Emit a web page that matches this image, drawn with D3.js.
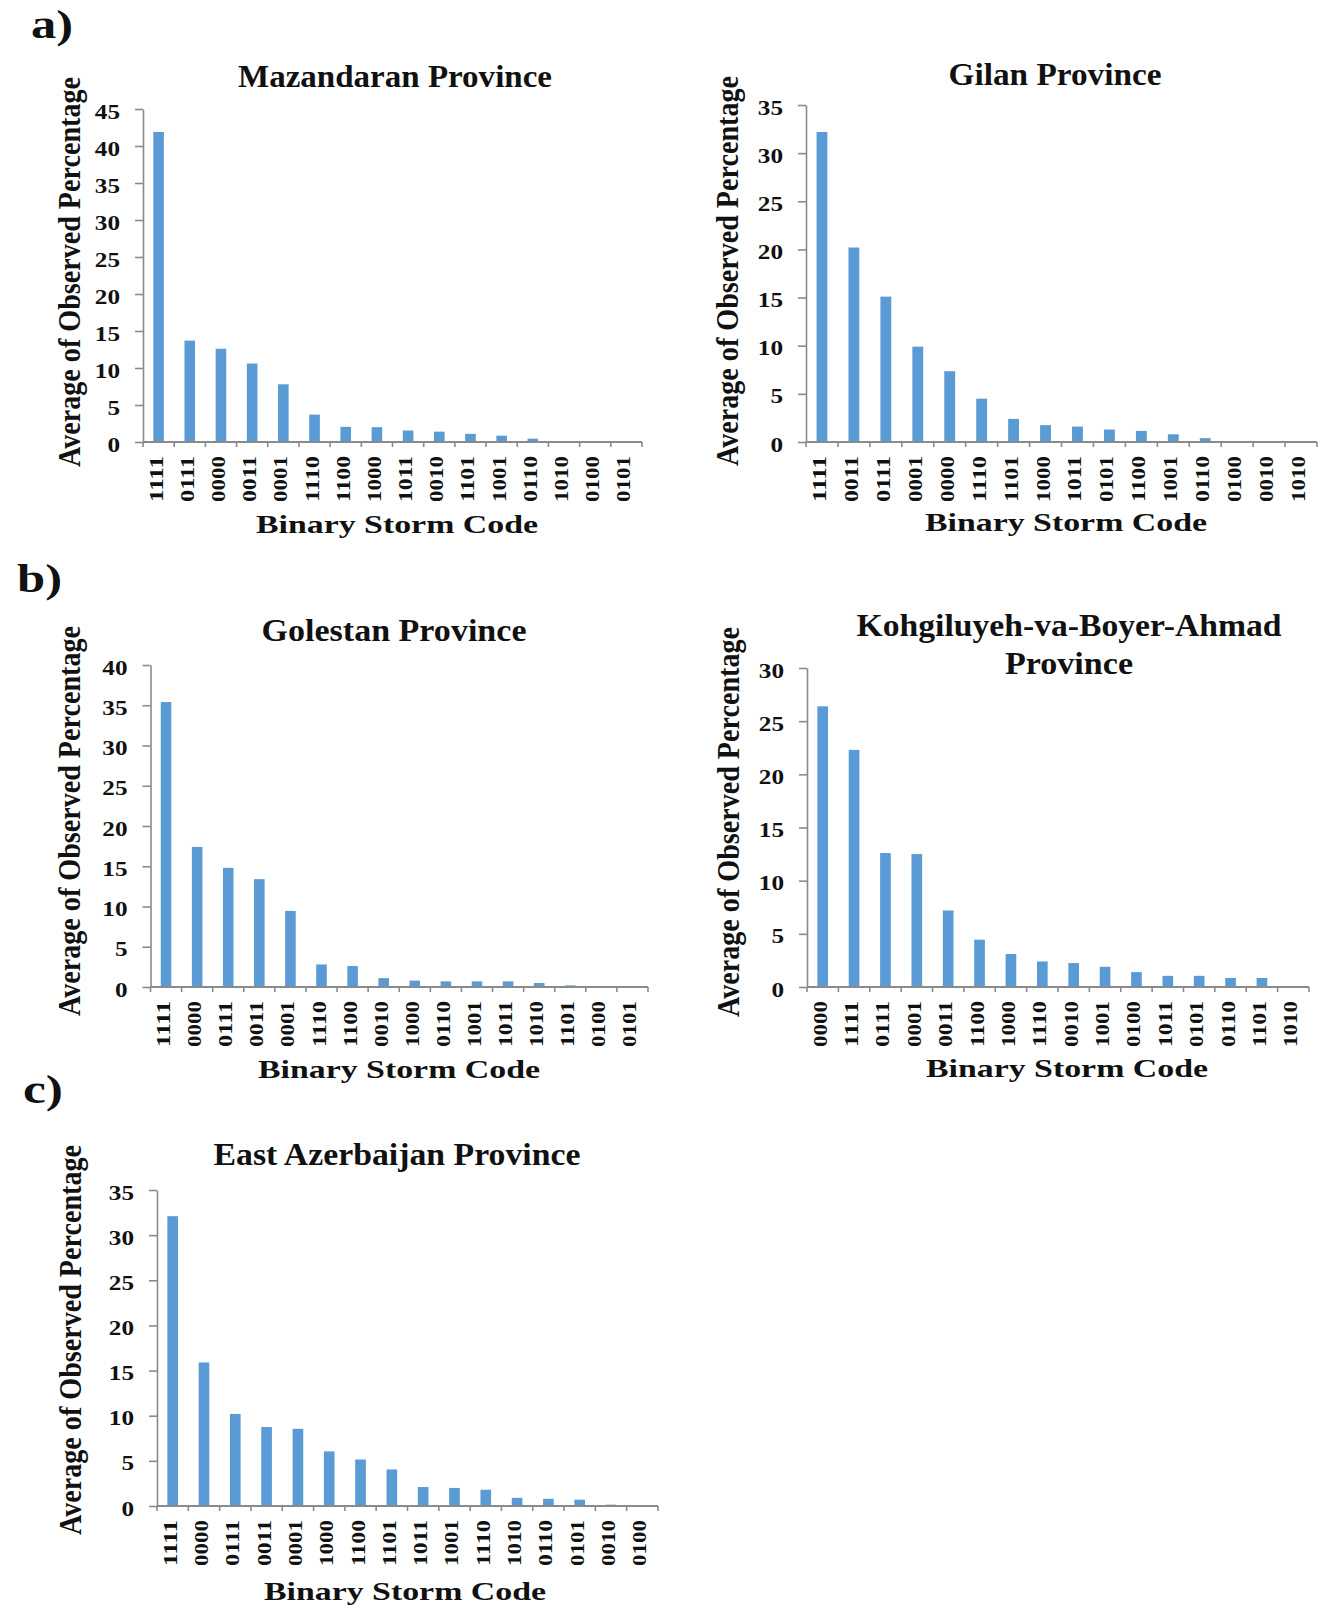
<!DOCTYPE html>
<html>
<head>
<meta charset="utf-8">
<script src="https://cdn.jsdelivr.net/npm/d3@7"></script>
<style>
  html, body { margin: 0; padding: 0; background: #ffffff; }
  svg { display: block; }
</style>
</head>
<body>
<script>
// ---------------- DATA ----------------
const mazCodes  = ["1111","0111","0000","0011","0001","1110","1100","1000","1011","0010","1101","1001","0110","1010","0100","0101"];
const mazValues = [41.9, 13.7, 12.6, 10.6, 7.8, 3.7, 2.05, 2.0, 1.55, 1.4, 1.1, 0.85, 0.45, 0, 0, 0];
const mazTicks  = [0, 5, 10, 15, 20, 25, 30, 35, 40, 45];

const gilCodes  = ["1111","0011","0111","0001","0000","1110","1101","1000","1011","0101","1100","1001","0110","0100","0010","1010"];
const gilValues = [32.2, 20.2, 15.1, 9.9, 7.35, 4.5, 2.4, 1.75, 1.6, 1.3, 1.15, 0.8, 0.4, 0.1, 0, 0];
const gilTicks  = [0, 5, 10, 15, 20, 25, 30, 35];

const golCodes  = ["1111","0000","0111","0011","0001","1110","1100","0010","1000","0110","1001","1011","1010","1101","0100","0101"];
const golValues = [35.4, 17.4, 14.8, 13.4, 9.45, 2.8, 2.6, 1.1, 0.8, 0.7, 0.7, 0.7, 0.5, 0.2, 0, 0];
const golTicks  = [0, 5, 10, 15, 20, 25, 30, 35, 40];

const kohCodes  = ["0000","1111","0111","0001","0011","1100","1000","1110","0010","1001","0100","1011","0101","0110","1101","1010"];
const kohValues = [26.4, 22.3, 12.6, 12.5, 7.2, 4.45, 3.1, 2.4, 2.25, 1.9, 1.4, 1.05, 1.05, 0.85, 0.85, 0];
const kohTicks  = [0, 5, 10, 15, 20, 25, 30];

const eazCodes  = ["1111","0000","0111","0011","0001","1000","1100","1101","1011","1001","1110","1010","0110","0101","0010","0100"];
const eazValues = [32.1, 15.9, 10.2, 8.75, 8.55, 6.05, 5.15, 4.05, 2.1, 2.0, 1.8, 0.9, 0.8, 0.7, 0.15, 0.1];
const eazTicks  = [0, 5, 10, 15, 20, 25, 30, 35];

const yAxisTitle = "Average of Observed Percentage";
const xAxisTitle = "Binary Storm Code";

// ---------------- LAYOUT ----------------
const panels = [
  { title: ["Mazandaran Province"], codes: mazCodes, values: mazValues, ticks: mazTicks,
    x0: 143, x1: 642, y0: 442, yTop: 109,
    titleX: 395, titleY: [87], titleW: [314],
    yLabX: 80, yLabY: 272, xLabX: 397, xLabY: 533 },
  { title: ["Gilan Province"], codes: gilCodes, values: gilValues, ticks: gilTicks,
    x0: 806, x1: 1317, y0: 442, yTop: 105,
    titleX: 1055, titleY: [85], titleW: [213],
    yLabX: 738, yLabY: 271, xLabX: 1066, xLabY: 531 },
  { title: ["Golestan Province"], codes: golCodes, values: golValues, ticks: golTicks,
    x0: 150.5, x1: 648, y0: 987, yTop: 665,
    titleX: 394, titleY: [641], titleW: [265],
    yLabX: 80, yLabY: 821, xLabX: 399, xLabY: 1078 },
  { title: ["Kohgiluyeh-va-Boyer-Ahmad", "Province"], codes: kohCodes, values: kohValues, ticks: kohTicks,
    x0: 807, x1: 1309, y0: 987, yTop: 668,
    titleX: 1069, titleY: [636, 674], titleW: [425, 128],
    yLabX: 739, yLabY: 822, xLabX: 1067, xLabY: 1077 },
  { title: ["East Azerbaijan Province"], codes: eazCodes, values: eazValues, ticks: eazTicks,
    x0: 157, x1: 658, y0: 1506, yTop: 1190,
    titleX: 397, titleY: [1165], titleW: [367],
    yLabX: 81, yLabY: 1340, xLabX: 405, xLabY: 1600 }
];

const letters = [
  { t: "a)", x: 31, y: 38, w: 42 },
  { t: "b)", x: 17, y: 592, w: 45 },
  { t: "c)", x: 23, y: 1103, w: 40 }
];

const FONT = "'Liberation Serif', 'Times New Roman', Times, serif";
const BAR = "#5b9bd5";
const AXIS = "#8a8a8a";
const INK = "#111111";

const svg = d3.select("body").append("svg")
  .attr("width", 1326).attr("height", 1608)
  .attr("font-family", FONT).attr("font-weight", "bold");

svg.append("rect").attr("width", 1326).attr("height", 1608).attr("fill", "#ffffff");

svg.selectAll("text.letter").data(letters).join("text")
  .attr("class", "letter")
  .attr("x", d => d.x).attr("y", d => d.y)
  .attr("font-size", 40).attr("fill", INK)
  .attr("textLength", d => d.w).attr("lengthAdjust", "spacingAndGlyphs")
  .text(d => d.t);

panels.forEach(p => {
  const g = svg.append("g");
  const x = d3.scaleBand().domain(p.codes).range([p.x0, p.x1])
    .paddingInner(0.66).paddingOuter(0.33);
  const y = d3.scaleLinear().domain([0, d3.max(p.ticks)]).range([p.y0, p.yTop]);

  // bars
  g.append("g").selectAll("rect").data(p.values).join("rect")
    .attr("x", (d, i) => x(p.codes[i]))
    .attr("width", x.bandwidth())
    .attr("y", d => y(d))
    .attr("height", d => y(0) - y(d))
    .attr("fill", BAR);

  // y axis
  const ya = g.append("g")
    .attr("transform", `translate(${p.x0},0)`)
    .call(d3.axisLeft(y).tickValues(p.ticks).tickSize(8).tickSizeOuter(0));
  ya.attr("font-family", FONT).attr("font-weight", "bold").attr("font-size", 21);
  ya.select(".domain").attr("stroke", AXIS).attr("stroke-width", 1.6);
  ya.selectAll(".tick line").attr("stroke", AXIS).attr("stroke-width", 1.6);
  ya.selectAll(".tick text")
    .attr("x", -23).attr("dy", 9).attr("fill", INK)
    .attr("textLength", d => String(d).length * 12.6)
    .attr("lengthAdjust", "spacingAndGlyphs");

  // x axis line and category boundary ticks
  const step = x.step();
  const r0 = x.range()[0];
  g.append("line")
    .attr("x1", r0).attr("x2", x.range()[1])
    .attr("y1", y(0)).attr("y2", y(0))
    .attr("stroke", AXIS).attr("stroke-width", 1.8);
  g.append("g").selectAll("line").data(d3.range(p.codes.length + 1)).join("line")
    .attr("x1", i => r0 + i * step).attr("x2", i => r0 + i * step)
    .attr("y1", y(0)).attr("y2", y(0) + 5)
    .attr("stroke", AXIS).attr("stroke-width", 1.6);

  // x category labels (rotated)
  g.append("g").selectAll("text").data(p.codes).join("text")
    .attr("transform", d => `translate(${x(d) + x.bandwidth() / 2 + 4},${y(0) + 14}) rotate(-90)`)
    .attr("text-anchor", "end")
    .attr("font-size", 18).attr("fill", INK)
    .attr("textLength", 46).attr("lengthAdjust", "spacingAndGlyphs")
    .text(d => d);

  // titles
  p.title.forEach((t, i) => {
    g.append("text")
      .attr("x", p.titleX).attr("y", p.titleY[i])
      .attr("text-anchor", "middle")
      .attr("font-size", 31).attr("fill", INK)
      .attr("textLength", p.titleW[i]).attr("lengthAdjust", "spacingAndGlyphs")
      .text(t);
  });

  // y axis title
  g.append("text")
    .attr("transform", `translate(${p.yLabX},${p.yLabY}) rotate(-90)`)
    .attr("text-anchor", "middle")
    .attr("font-size", 32).attr("fill", INK)
    .attr("textLength", 390).attr("lengthAdjust", "spacingAndGlyphs")
    .text(yAxisTitle);

  // x axis title
  g.append("text")
    .attr("x", p.xLabX).attr("y", p.xLabY)
    .attr("text-anchor", "middle")
    .attr("font-size", 26).attr("fill", INK)
    .attr("textLength", 282).attr("lengthAdjust", "spacingAndGlyphs")
    .text(xAxisTitle);
});
</script>
</body>
</html>
